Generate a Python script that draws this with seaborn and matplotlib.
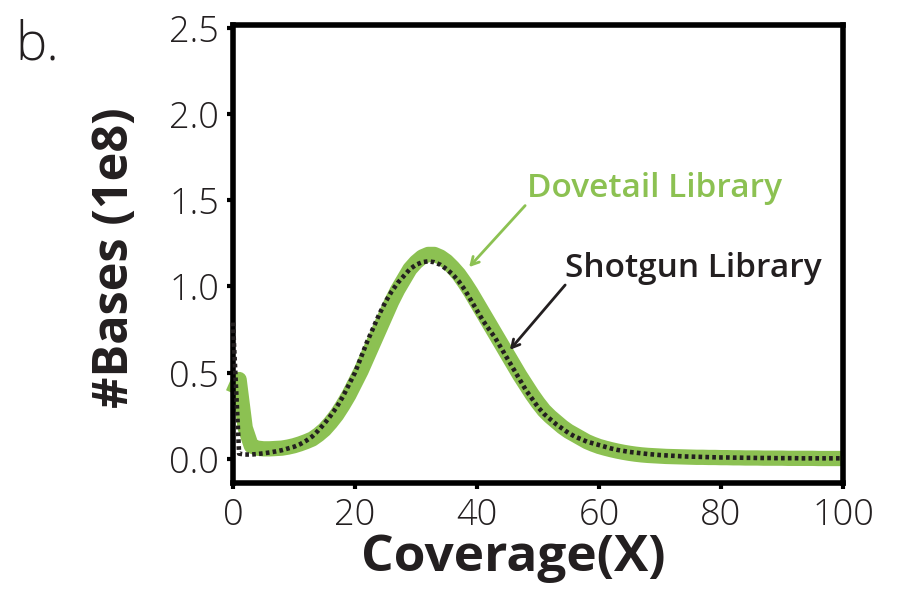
import numpy as np
import pandas as pd
import matplotlib
matplotlib.use("Agg")
import matplotlib.pyplot as plt
import seaborn as sns

# coverage depth (X), one point per integer coverage
coverage = list(range(0, 101))

# number of bases (1e8) at each coverage
dovetail = [
    0.38, 0.46, 0.18, 0.075, 0.062, 0.058, 0.058, 0.060, 0.062, 0.068,
    0.076, 0.087, 0.100, 0.115, 0.140, 0.170, 0.210, 0.255, 0.310, 0.370,
    0.440, 0.510, 0.590, 0.670, 0.750, 0.830, 0.910, 0.980, 1.040, 1.100,
    1.140, 1.170, 1.185, 1.185, 1.170, 1.145, 1.110, 1.070, 1.020, 0.965,
    0.905, 0.845, 0.785, 0.725, 0.665, 0.605, 0.545, 0.485, 0.430, 0.375,
    0.325, 0.280, 0.245, 0.215, 0.185, 0.160, 0.140, 0.120, 0.100, 0.085,
    0.072, 0.062, 0.053, 0.045, 0.038, 0.032, 0.027, 0.023, 0.020, 0.018,
    0.016, 0.014, 0.013, 0.012, 0.011, 0.010, 0.009, 0.009, 0.008, 0.008,
    0.007, 0.007, 0.006, 0.006, 0.005, 0.005, 0.005, 0.004, 0.004, 0.004,
    0.004, 0.003, 0.003, 0.003, 0.003, 0.003, 0.002, 0.002, 0.002, 0.002,
    0.002,
]
shotgun = [
    0.79, 0.030, 0.025, 0.025, 0.028, 0.032, 0.037, 0.043, 0.050, 0.060,
    0.070, 0.085, 0.105, 0.130, 0.165, 0.205, 0.250, 0.300, 0.360, 0.430,
    0.500, 0.590, 0.680, 0.760, 0.840, 0.910, 0.970, 1.020, 1.060, 1.100,
    1.125, 1.140, 1.145, 1.140, 1.125, 1.100, 1.070, 1.030, 0.980, 0.920,
    0.860, 0.800, 0.750, 0.700, 0.640, 0.580, 0.520, 0.460, 0.400, 0.350,
    0.300, 0.260, 0.230, 0.200, 0.175, 0.150, 0.130, 0.115, 0.100, 0.090,
    0.080, 0.070, 0.060, 0.052, 0.046, 0.040, 0.036, 0.032, 0.028, 0.025,
    0.022, 0.020, 0.018, 0.016, 0.014, 0.013, 0.012, 0.011, 0.010, 0.009,
    0.008, 0.008, 0.007, 0.007, 0.006, 0.006, 0.005, 0.005, 0.005, 0.004,
    0.004, 0.004, 0.004, 0.003, 0.003, 0.003, 0.003, 0.003, 0.003, 0.003,
    0.003,
]

x_ticks = [0, 20, 40, 60, 80, 100]
y_ticks = [0.0, 0.5, 1.0, 1.5, 2.0, 2.5]

GREEN = "#8cc152"
BLACK = "#231f20"

sns.set_style("ticks")
plt.rcParams["font.family"] = ["Open Sans", "DejaVu Sans"]

df = pd.DataFrame({"coverage": coverage, "Dovetail Library": dovetail,
                   "Shotgun Library": shotgun})

fig = plt.figure(figsize=(9.24, 6.10), dpi=100)
ax = fig.add_axes([233 / 924, 1 - 483 / 610, 610 / 924, 458 / 610])

sns.lineplot(data=df, x="coverage", y="Dovetail Library", ax=ax, color=GREEN,
             lw=11, solid_capstyle="butt", clip_on=False, zorder=2)
sns.lineplot(data=df, x="coverage", y="Shotgun Library", ax=ax, color=BLACK,
             lw=3.3, linestyle=(0, (0.8, 0.7)), clip_on=False, zorder=3)

ax.set_xlim(0, 100)
ax.set_ylim(-0.14, 2.515)
ax.set_xticks(x_ticks)
ax.set_yticks(y_ticks)
ax.set_yticklabels([f"{v:.1f}" for v in y_ticks])

for side in ["left", "right", "top", "bottom"]:
    ax.spines[side].set_linewidth(4)
    ax.spines[side].set_color("black")
ax.tick_params(axis="both", length=4, width=3, color="black", pad=6,
               labelsize=26, labelcolor=BLACK)
for lab in ax.get_xticklabels() + ax.get_yticklabels():
    lab.set_fontweight("light")

ax.set_xlabel("Coverage(X)", fontsize=37, fontweight="bold", color=BLACK)
ax.set_ylabel("#Bases (1e8)", fontsize=35, fontweight="bold", color=BLACK)
ax.xaxis.set_label_coords(0.46, -0.11)
ax.yaxis.set_label_coords(-0.152, 0.493)

# annotations
ax.text(48.2, 1.52, "Dovetail Library", color=GREEN, fontsize=24,
        fontweight="semibold", ha="left", va="baseline")
ax.annotate("", xy=(38.4, 1.10), xytext=(48.2, 1.48),
            arrowprops=dict(arrowstyle="->,head_length=0.55,head_width=0.3",
                            color=GREEN, lw=2))
ax.text(54.4, 1.055, "Shotgun Library", color=BLACK, fontsize=24,
        fontweight="semibold", ha="left", va="baseline")
ax.annotate("", xy=(45.1, 0.62), xytext=(54.75, 1.02),
            arrowprops=dict(arrowstyle="->,head_length=0.55,head_width=0.3",
                            color=BLACK, lw=2))

fig.text(15 / 924, 1 - 60 / 610, "b.", fontsize=38, fontweight="light",
         color=BLACK, ha="left", va="baseline")

fig.savefig("out.png", dpi=100)
